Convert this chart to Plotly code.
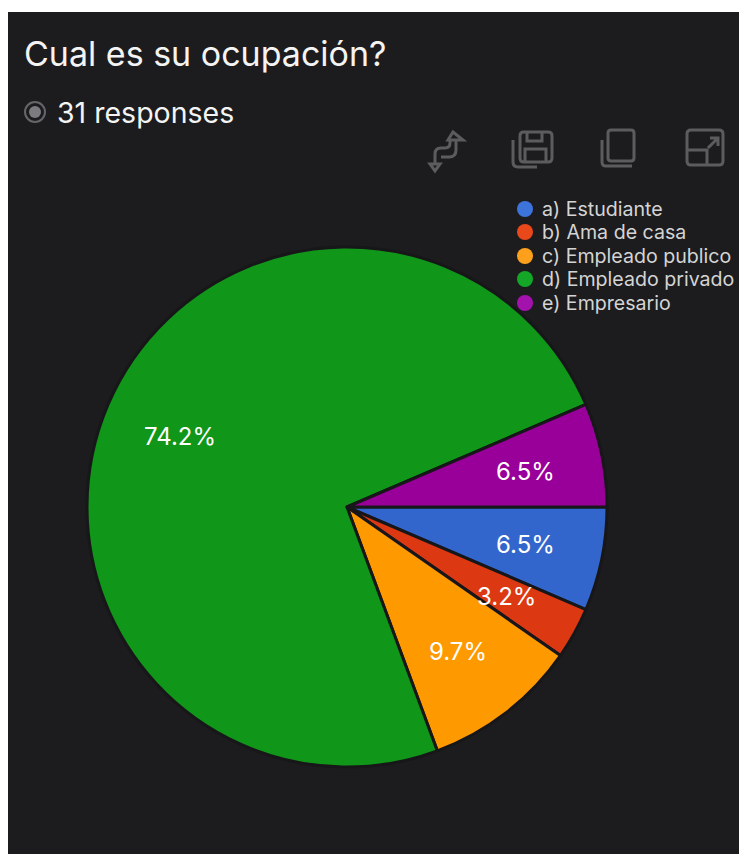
import math
import plotly.graph_objects as go

# Survey responses per occupation
categories = ["a) Estudiante", "b) Ama de casa", "c) Empleado publico", "d) Empleado privado", "e) Empresario"]
counts = [2, 1, 3, 23, 2]
slice_colors = ["#3366cc", "#dc3912", "#ff9900", "#109618", "#990099"]
legend_colors = ["#3d74dc", "#e8481a", "#ffa01c", "#14a626", "#a312ad"]
title_text = "Cual es su ocupación?"
responses_text = f"{sum(counts)} responses"

W, H = 739, 854
CX, CY, R = 347, 507, 260
PANEL = "#1c1c1e"
ICON = "#5c5c5e"
TEXT = "#f4f4f4"
FONT = "Inter"


def px(x):
    return x / W


def py(y):
    return 1 - y / H


def path(*cmds):
    # Builds an SVG path in paper coordinates from pixel-based commands
    out = []
    for c in cmds:
        if isinstance(c, str):
            out.append(c)
        else:
            out.append(f"{px(c[0]):.5f},{py(c[1]):.5f}")
    return " ".join(out)


def icon(d, width=3):
    return dict(type="path", xref="paper", yref="paper", path=d,
                line=dict(color=ICON, width=width), layer="above")


def round_rect(x0, y0, x1, y1, r=4):
    return path("M", (x0 + r, y0), "L", (x1 - r, y0), "Q", (x1, y0), (x1, y0 + r),
                "L", (x1, y1 - r), "Q", (x1, y1), (x1 - r, y1),
                "L", (x0 + r, y1), "Q", (x0, y1), (x0, y1 - r),
                "L", (x0, y0 + r), "Q", (x0, y0), (x0 + r, y0), "Z")


def circle(x, y, r, fill=None, line=None, width=0):
    return dict(type="circle", xref="paper", yref="paper",
                x0=px(x - r), x1=px(x + r), y0=py(y + r), y1=py(y - r),
                fillcolor=fill or "rgba(0,0,0,0)",
                line=dict(color=line or "rgba(0,0,0,0)", width=width))


def text(x, y, s, size, anchor="left", color=TEXT):
    return dict(xref="paper", yref="paper", x=px(x), y=py(y), text=s, showarrow=False,
                xanchor=anchor, yanchor="middle", align=anchor,
                font=dict(family=FONT, size=size, color=color))


fig = go.Figure(go.Pie(
    labels=categories, values=counts, sort=False, direction="clockwise", rotation=90,
    marker=dict(colors=slice_colors, line=dict(color="#17171a", width=3)),
    textinfo="none", hoverinfo="label+percent", showlegend=False,
    domain=dict(x=[px(CX - R), px(CX + R)], y=[py(CY + R), py(CY - R)]),
))

shapes = [
    dict(type="rect", xref="paper", yref="paper", x0=px(8), x1=1, y0=0, y1=py(12),
         fillcolor=PANEL, line=dict(width=0), layer="below"),
    circle(35, 112, 10, line="#66666a", width=2),
    circle(35, 112, 6, fill="#7c7c80"),
]

# Toolbar glyphs: swap, save, copy, expand
shapes += [
    icon(path("M", (456, 139), "L", (456, 150), "Q", (456, 157), (449, 157), "L", (441, 157))),
    icon(path("M", (450, 139), "L", (450, 143), "Q", (450, 148), (445, 148), "L", (441, 148),
              "Q", (435, 148), (435, 154), "L", (435, 163))),
    icon(path("M", (448, 140), "L", (453, 132), "L", (463, 140), "Z")),
    icon(path("M", (430, 164), "L", (440, 164), "L", (435, 171), "Z")),
    icon(round_rect(520, 132, 552, 162)),
    icon(path("M", (527, 132), "L", (527, 141), "L", (542, 141), "L", (542, 132))),
    icon(path("M", (525, 162), "L", (525, 149), "L", (546, 149), "L", (546, 162))),
    icon(path("M", (513, 140), "L", (513, 162), "Q", (513, 167), (518, 167), "L", (537, 167))),
    icon(round_rect(608, 130, 634, 161, 3)),
    icon(path("M", (602, 140), "L", (602, 162), "Q", (602, 166), (606, 166), "L", (632, 166))),
    icon(round_rect(687, 130, 723, 165)),
    icon(path("M", (687, 150), "L", (707, 150), "L", (707, 165))),
    icon(path("M", (708, 148), "L", (718, 138), "M", (710, 138), "L", (718, 138), "L", (718, 146))),
]

annotations = [
    text(22, 54, title_text, 34),
    text(55, 112, responses_text, 28.5),
]

# Legend rows
legend_rows = [209, 232, 256, 279, 303]
for name, color, y in zip(categories, legend_colors, legend_rows):
    shapes.append(circle(525, y, 8, fill=color))
    annotations.append(text(540, y, name, 19.6, color="#d4d4d4"))

# Percent labels sit at 70% of the radius along each slice's mid-angle
total = sum(counts)
running = 0
for value in counts:
    mid = (running + value / 2) / total * 2 * math.pi
    running += value
    annotations.append(text(CX + 0.7 * R * math.cos(mid), CY + 0.7 * R * math.sin(mid) + 1,
                            f"{value / total * 100:.1f}%", 24, anchor="center", color="#ffffff"))

fig.update_layout(
    width=W, height=H, margin=dict(l=0, r=0, t=0, b=0),
    paper_bgcolor="#ffffff", shapes=shapes, annotations=annotations,
    showlegend=False,
)
fig.write_html("out.html", config=dict(displayModeBar=False))
